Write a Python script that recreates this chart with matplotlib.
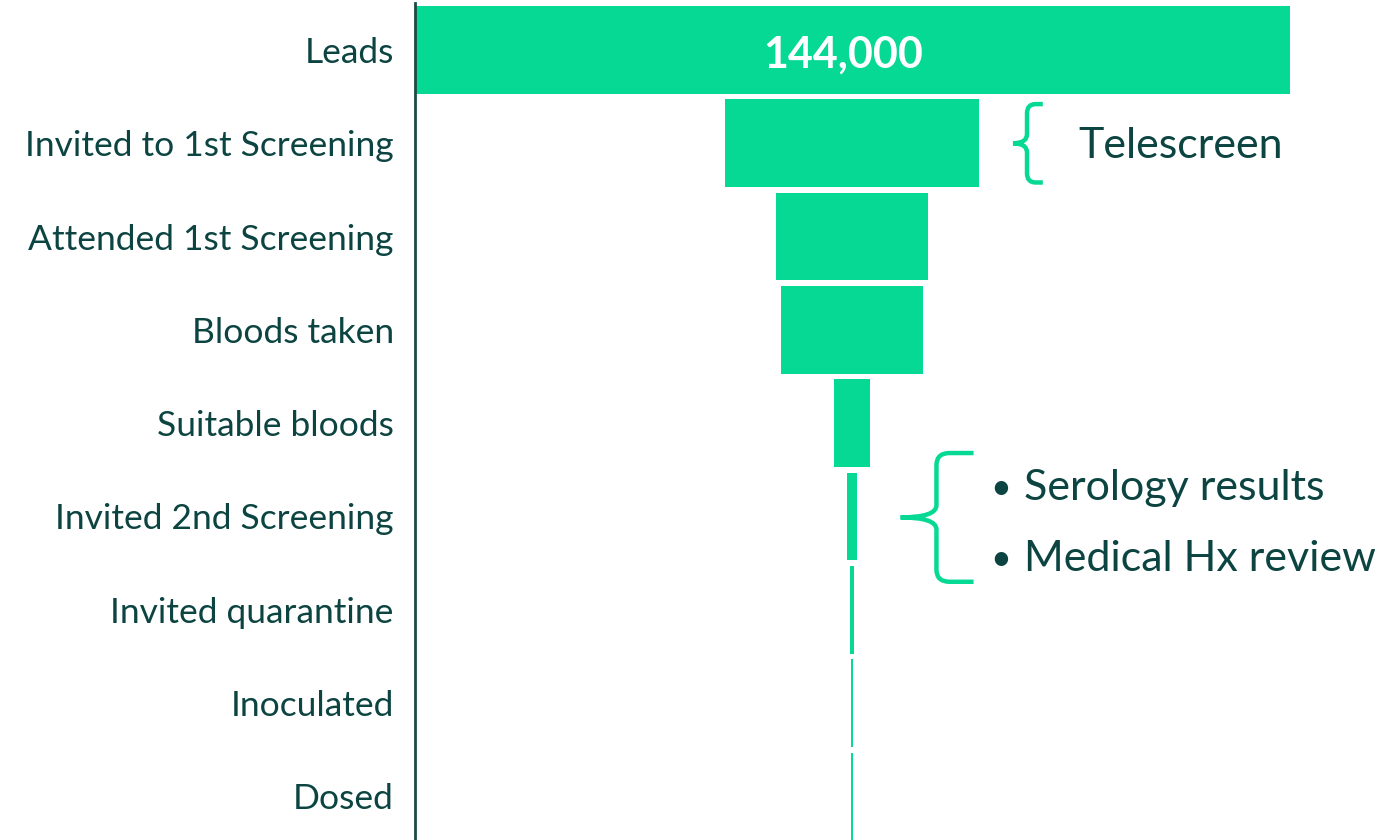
import matplotlib.pyplot as plt
from matplotlib.path import Path
from matplotlib.patches import PathPatch

stages = ["Leads", "Invited to 1st Screening", "Attended 1st Screening",
          "Bloods taken", "Suitable bloods", "Invited 2nd Screening",
          "Invited quarantine", "Inoculated", "Dosed"]
counts = [144000, 41700, 25000, 23500, 5800, 1750, 500, 350, 350]

telescreen_note = "Telescreen"
review_notes = ["Serology results", "Medical Hx review"]

GREEN = "#05d993"
TEXT = "#0c4441"
FONT = ["Lato", "DejaVu Sans"]

plt.rcParams["font.family"] = FONT

fig = plt.figure(figsize=(13.86, 8.4), dpi=100)
ax = fig.add_axes([414.5 / 1386, -3 / 840, 875 / 1386, 839.65 / 840])

rows = list(range(len(stages)))
lefts = [-c / 2 for c in counts]
ax.barh(rows, counts, left=lefts, height=0.94, color=GREEN, linewidth=0)

ax.set_xlim(-72000, 72000)
ax.set_ylim(len(stages) - 0.5, -0.5)
ax.set_yticks(rows)
ax.set_yticklabels(stages, fontsize=25.5, color=TEXT)
ax.tick_params(axis="y", length=0, pad=15)
ax.set_xticks([])
for s in ["top", "right", "bottom"]:
    ax.spines[s].set_visible(False)
ax.spines["left"].set_color("#1d4848")
ax.spines["left"].set_linewidth(2)

# value on the top bar
ax.text(-1400, 0.05, f"{counts[0]:,}", ha="center", va="center",
        fontsize=31, fontweight="bold", color="white")


def brace(x_tip, x_v, x_arm, y0, y1, rx, ry):
    ym = (y0 + y1) / 2
    verts = [(x_arm, y0), (x_v + rx, y0), (x_v, y0), (x_v, y0 + ry),
             (x_v, ym - ry), (x_v, ym), (x_tip, ym),
             (x_v, ym), (x_v, ym + ry),
             (x_v, y1 - ry), (x_v, y1), (x_v + rx, y1), (x_arm, y1)]
    codes = [Path.MOVETO, Path.LINETO, Path.CURVE3, Path.CURVE3,
             Path.LINETO, Path.CURVE3, Path.CURVE3,
             Path.CURVE3, Path.CURVE3,
             Path.LINETO, Path.CURVE3, Path.CURVE3, Path.LINETO]
    ax.add_patch(PathPatch(Path(verts, codes), fill=False, edgecolor=GREEN,
                           linewidth=3.2, clip_on=False, capstyle="butt"))


# Telescreen brace around row 1
brace(26500, 28800, 31400, 0.58, 1.42, 1400, 0.1)
ax.text(37200, 1.03, telescreen_note, ha="left", va="center",
        fontsize=31, color=TEXT, clip_on=False)

# second brace around rows 4-5
brace(8000, 13900, 20000, 4.32, 5.70, 2200, 0.13)
for yy, note in zip([4.70, 5.46], review_notes):
    ax.text(24500, yy, "\u2022", ha="center", va="center",
            fontsize=26, color=TEXT, clip_on=False)
    ax.text(28300, yy, note, ha="left", va="center",
            fontsize=31, color=TEXT, clip_on=False)

fig.savefig("out.png", dpi=100)
